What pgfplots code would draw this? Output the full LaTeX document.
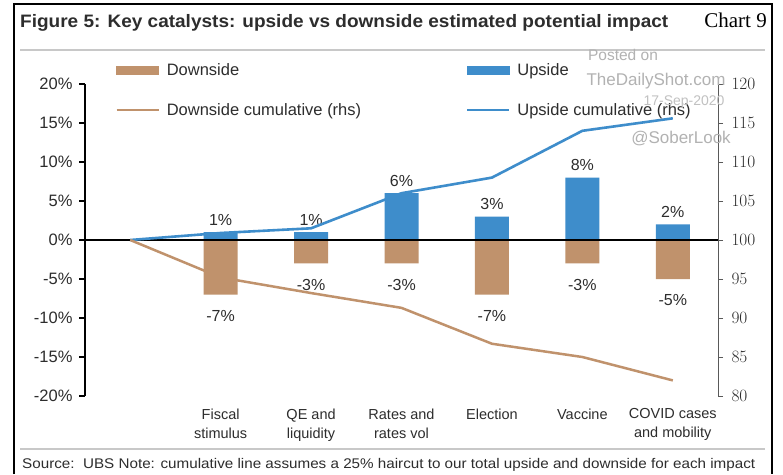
\documentclass[border=0pt]{standalone}
\usepackage{graphicx}
\usepackage{pgfplots}
\pgfplotsset{compat=1.18}
\usepackage{fontspec}
\setmainfont{Liberation Sans}
\newfontfamily\serifchart{Liberation Serif}
\definecolor{dsbrown}{RGB}{192,146,108}
\definecolor{upblue}{RGB}{62,141,203}
\definecolor{txt}{RGB}{45,45,45}
\definecolor{sepgray}{RGB}{200,200,200}
\definecolor{wm}{RGB}{178,178,178}
\begin{document}
\begin{tikzpicture}
\path[use as bounding box] (0,0) rectangle (783pt,-474pt);
\fill[white] (0,0) rectangle (783pt,-474pt);
% frame and separators
\draw[black, line width=2.5pt] (14pt,-474pt) -- (14pt,-4pt) -- (772pt,-4pt) -- (772pt,-474pt);
\draw[sepgray, line width=2pt] (20pt,-50pt) -- (765pt,-50pt);
\draw[sepgray, line width=2pt] (20pt,-449pt) -- (765pt,-449pt);
\node[anchor=west, inner sep=0pt, text=txt, font=\bfseries\fontsize{18}{21}\selectfont] at (20pt,-23pt) {\resizebox{648pt}{\height}{Figure 5: Key catalysts: upside vs downside estimated potential impact}};
\node[anchor=east, inner sep=0pt, font=\serifchart\fontsize{21}{24}\selectfont] at (767pt,-20pt) {Chart 9};
\node[anchor=west, inner sep=0pt, text=txt, font=\fontsize{14}{17}\selectfont] at (22pt,-465pt) {\resizebox{733pt}{\height}{Source:~~UBS Note: cumulative line assumes a 25\% haircut to our total upside and downside for each impact}};

\begin{axis}[
  at={(85pt,-396pt)}, anchor=south west,
  scale only axis, width=633pt, height=312pt,
  xmin=-0.5, xmax=6.5, ymin=-20, ymax=20,
  axis y line*=left, axis x line*=bottom,
  x axis line style={draw=none},
  y axis line style={black, line width=2.5pt},
  ytick={-20,-15,...,20},
  yticklabel={\pgfmathprintnumber{\tick}\%},
  /pgf/number format/assume math mode=true,
  yticklabel style={font=\fontsize{16.5}{19}\selectfont, text=txt, xshift=-3pt},
  ytick style={black, line width=2pt},
  tick align=outside, major tick length=6pt,
  xtick={1,2,3,4,5,6},
  xticklabels={{Fiscal\\stimulus},{QE and\\liquidity},{Rates and\\rates vol},{Election},{Vaccine},{COVID cases\\and mobility}},
  xticklabel style={align=center, font=\fontsize{14.5}{19}\selectfont, text=txt, anchor=north, yshift=-3pt},
  xtick style={draw=none},
  clip=false,
]
\addplot[ybar, bar width=34pt, bar shift=0pt, fill=upblue, draw=none,
  nodes near coords, point meta=explicit symbolic,
  every node near coord/.append style={font=\fontsize{16}{19}\selectfont, text=txt, anchor=south, yshift=3pt}]
  coordinates {(1,1)[1\%] (2,1)[1\%] (3,6)[6\%] (4,3)[3\%] (5,8)[8\%] (6,2)[2\%]};
\addplot[ybar, bar width=34pt, bar shift=0pt, fill=dsbrown, draw=none,
  nodes near coords, point meta=explicit symbolic,
  every node near coord/.append style={font=\fontsize{16}{19}\selectfont, text=txt, anchor=north, yshift=-12pt}]
  coordinates {(1,-7)[-7\%] (2,-3)[-3\%] (3,-3)[-3\%] (4,-7)[-7\%] (5,-3)[-3\%] (6,-5)[-5\%]};
\addplot[black, line width=2pt, mark=none] coordinates {(-0.5,0) (6.5,0)};
\end{axis}

\begin{axis}[
  at={(85pt,-396pt)}, anchor=south west,
  scale only axis, width=633pt, height=312pt,
  xmin=-0.5, xmax=6.5, ymin=80, ymax=120,
  axis y line*=right, axis x line=none,
  y axis line style={draw=black!65, line width=1pt},
  ytick={80,85,...,120},
  yticklabel style={font=\fontsize{16.5}{19}\selectfont, text=txt, xshift=5pt},
  ytick style={black!65, line width=1pt},
  tick align=outside, major tick length=5pt,
  clip=false,
  legend cell align=left,
  legend style={draw=none, fill=none, at={(0.0474,1.072)}, anchor=north west,
    legend columns=2, font=\fontsize{16.5}{19}\selectfont, text=txt, inner sep=0pt,
    row sep=22pt},
]
\addplot[upblue, line width=2.6pt, mark=none, forget plot] coordinates {(0,100) (1,100.9) (2,101.5) (3,106) (4,108) (5,114) (6,115.6)};
\addplot[dsbrown, line width=2.5pt, mark=none, forget plot] coordinates {(0,100) (1,95.2) (2,93.2) (3,91.3) (4,86.7) (5,85) (6,82)};
\addlegendimage{legend image code/.code={\fill[dsbrown] (0pt,-4pt) rectangle (42pt,4pt);}}
\addlegendentry{\hspace*{5pt}\makebox[297pt][l]{Downside}}
\addlegendimage{legend image code/.code={\fill[upblue] (0pt,-4pt) rectangle (42pt,4pt);}}
\addlegendentry{\hspace*{5pt}Upside}
\addlegendimage{legend image code/.code={\draw[dsbrown, line width=2.6pt] (0pt,0pt) -- (42pt,0pt);}}
\addlegendentry{\hspace*{5pt}\makebox[297pt][l]{Downside cumulative (rhs)}}
\addlegendimage{legend image code/.code={\draw[upblue, line width=2.6pt] (0pt,0pt) -- (42pt,0pt);}}
\addlegendentry{\hspace*{5pt}Upside cumulative (rhs)}
\end{axis}

% watermark
\node[text=wm, font=\fontsize{15.5}{18}\selectfont, inner sep=0pt] at (623pt,-55pt) {Posted on};
\node[text=wm, font=\fontsize{17}{20}\selectfont, inner sep=0pt] at (656pt,-81pt) {TheDailyShot.com};
\node[text=wm!80, font=\fontsize{14}{17}\selectfont, inner sep=0pt] at (684pt,-102pt) {17-Sep-2020};
\node[text=wm, font=\fontsize{17}{20}\selectfont, inner sep=0pt] at (681pt,-139pt) {@SoberLook};
\end{tikzpicture}
\end{document}
